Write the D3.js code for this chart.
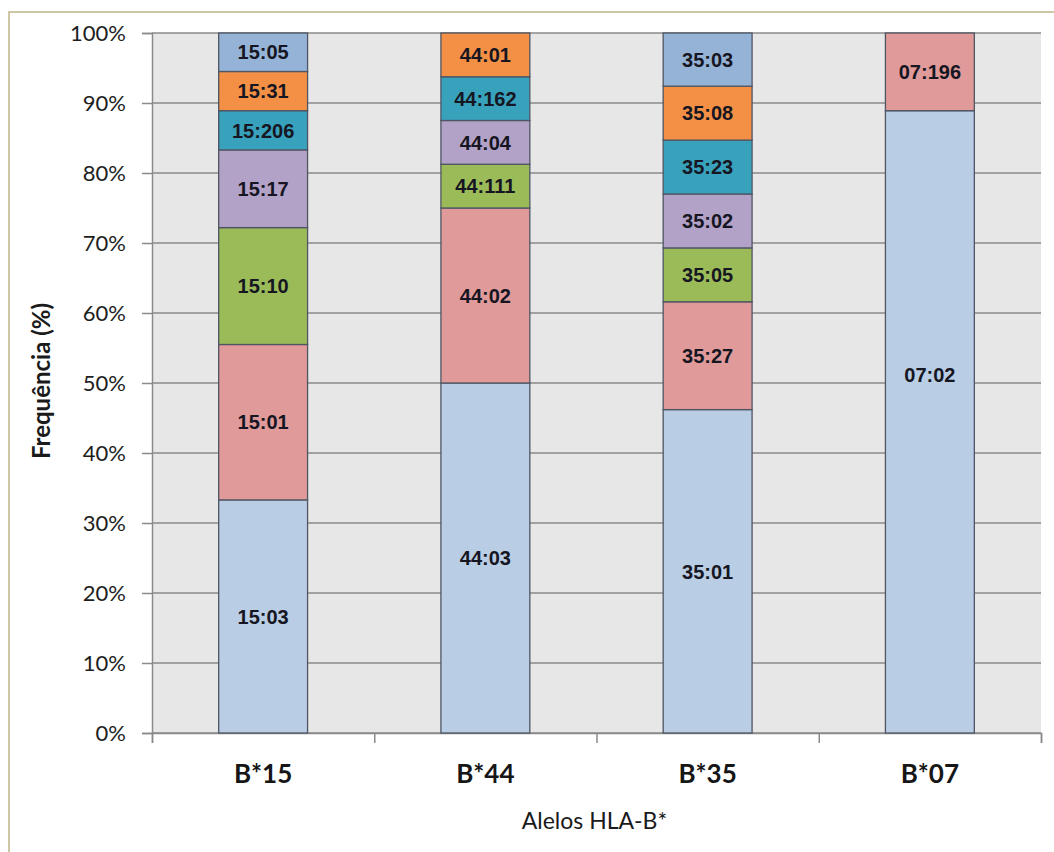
<!DOCTYPE html>
<html>
<head>
<meta charset="utf-8">
<script src="https://cdn.jsdelivr.net/npm/d3@7"></script>
<style>
  html, body { margin: 0; padding: 0; background: #ffffff; }
  svg { display: block; }
</style>
</head>
<body>
<script>
// ---------------- DATA ----------------
const categories = ["B*15", "B*44", "B*35", "B*07"];
const seriesKeys = ["s1", "s2", "s3", "s4", "s5", "s6", "s7"];
// stacked segment values (% of each allele group), bottom to top
const s1 = [33.3, 50.0, 46.2, 88.9];
const s2 = [22.2, 25.0, 15.4, 11.1];
const s3 = [16.7, 6.25, 7.7, 0];
const s4 = [11.1, 6.25, 7.7, 0];
const s5 = [5.6, 6.25, 7.7, 0];
const s6 = [5.6, 6.25, 7.7, 0];
const s7 = [5.5, 0, 7.6, 0];
// segment labels
const l1 = ["15:03", "44:03", "35:01", "07:02"];
const l2 = ["15:01", "44:02", "35:27", "07:196"];
const l3 = ["15:10", "44:111", "35:05", ""];
const l4 = ["15:17", "44:04", "35:02", ""];
const l5 = ["15:206", "44:162", "35:23", ""];
const l6 = ["15:31", "44:01", "35:08", ""];
const l7 = ["15:05", "", "35:03", ""];
const yTicks = [0, 10, 20, 30, 40, 50, 60, 70, 80, 90, 100];
const xTitle = "Alelos HLA-B*";
const yTitle = "Frequência (%)";

// ---------------- STYLE ----------------
const colors = ["#b9cde5", "#e09a99", "#9bbb59", "#b3a2c7", "#38a2bd", "#f39045", "#95b3d7"];
const labelNudge = { "07:02": -47 };

const W = 1054, H = 852;
const plot = { left: 152, top: 33, right: 1041, bottom: 733 };

const valuesBySeries = [s1, s2, s3, s4, s5, s6, s7];
const labelsBySeries = [l1, l2, l3, l4, l5, l6, l7];
const table = categories.map((c, i) => {
  const row = { cat: c };
  seriesKeys.forEach((k, j) => { row[k] = valuesBySeries[j][i]; });
  return row;
});
const stacked = d3.stack().keys(seriesKeys)(table);

const svg = d3.select("body").append("svg").attr("width", W).attr("height", H);

// outer frame
svg.append("path")
  .attr("d", `M9,${H} L9,12 L${W},12`)
  .attr("fill", "none").attr("stroke", "#cdc7a6").attr("stroke-width", 2);

const x = d3.scaleBand().domain(categories)
  .range([plot.left, plot.right]).paddingInner(0.6).paddingOuter(0.3);
const y = d3.scaleLinear().domain([0, 100]).range([plot.bottom, plot.top]);
const xEdge = d3.scaleLinear().domain([0, categories.length]).range([plot.left, plot.right]);

// plot background
svg.append("rect")
  .attr("x", plot.left).attr("y", plot.top)
  .attr("width", plot.right - plot.left).attr("height", plot.bottom - plot.top)
  .attr("fill", "#e7e7e7");

// gridlines
svg.append("g").selectAll("line").data(yTicks).join("line")
  .attr("x1", plot.left).attr("x2", plot.right)
  .attr("y1", d => y(d)).attr("y2", d => y(d))
  .attr("stroke", "#8a8a8a").attr("stroke-width", 1.5);

// y axis
const yAxis = svg.append("g").attr("transform", `translate(${plot.left},0)`)
  .call(d3.axisLeft(y).tickValues(yTicks).tickFormat(d => d + "%").tickSize(10).tickPadding(16));
yAxis.select(".domain").attr("stroke", "#8a8a8a").attr("stroke-width", 1.5);
yAxis.selectAll(".tick line").attr("stroke", "#8a8a8a").attr("stroke-width", 1.5);
yAxis.selectAll(".tick text")
  .attr("font-family", "Lato, 'Open Sans', sans-serif")
  .attr("font-size", 22).attr("fill", "#1e1e1e");

// x axis (tick marks at category boundaries)
const xAxis = svg.append("g").attr("transform", `translate(0,${plot.bottom})`)
  .call(d3.axisBottom(xEdge).tickValues(d3.range(categories.length + 1)).tickFormat("").tickSize(10));
xAxis.select(".domain").attr("stroke", "#8a8a8a").attr("stroke-width", 1.5);
xAxis.selectAll(".tick line").attr("stroke", "#8a8a8a").attr("stroke-width", 1.5);

svg.append("g").selectAll("text").data(categories).join("text")
  .attr("x", d => x(d) + x.bandwidth() / 2)
  .attr("y", 783)
  .attr("text-anchor", "middle")
  .attr("font-family", "Lato, 'Open Sans', sans-serif")
  .attr("font-weight", "bold").attr("font-size", 26).attr("fill", "#161616")
  .text(d => d);

// bars
const layers = svg.append("g").selectAll("g").data(stacked).join("g")
  .attr("fill", (d, i) => colors[i]);
layers.selectAll("rect").data(d => d.map(v => ({ v, cat: v.data.cat }))).join("rect")
  .filter(d => d.v[1] - d.v[0] > 0)
  .attr("x", d => x(d.cat))
  .attr("y", d => y(d.v[1]))
  .attr("width", x.bandwidth())
  .attr("height", d => y(d.v[0]) - y(d.v[1]))
  .attr("stroke", "#4f5563").attr("stroke-width", 1.3);

// segment labels
const labelData = [];
stacked.forEach((layer, j) => {
  layer.forEach((v, i) => {
    const txt = labelsBySeries[j][i];
    if (txt && v[1] - v[0] > 0) labelData.push({ txt, cat: categories[i], mid: (v[0] + v[1]) / 2 });
  });
});
svg.append("g").selectAll("text").data(labelData).join("text")
  .attr("x", d => x(d.cat) + x.bandwidth() / 2)
  .attr("y", d => y(d.mid) + (labelNudge[d.txt] || 0))
  .attr("dy", "0.36em")
  .attr("text-anchor", "middle")
  .attr("font-family", "'Liberation Sans', Arial, sans-serif")
  .attr("font-weight", "bold").attr("font-size", 20).attr("fill", "#161622")
  .text(d => d.txt);

// axis titles
svg.append("text")
  .attr("x", (plot.left + plot.right) / 2 - 2).attr("y", 829)
  .attr("text-anchor", "middle")
  .attr("font-family", "Lato, 'Open Sans', sans-serif")
  .attr("font-size", 23).attr("fill", "#1a1a1a")
  .text(xTitle);

svg.append("text")
  .attr("transform", `translate(50,${(plot.top + plot.bottom) / 2 - 2}) rotate(-90)`)
  .attr("text-anchor", "middle")
  .attr("font-family", "Lato, 'Open Sans', sans-serif")
  .attr("font-weight", "bold").attr("font-size", 24).attr("fill", "#1a1a1a")
  .text(yTitle);
</script>
</body>
</html>
